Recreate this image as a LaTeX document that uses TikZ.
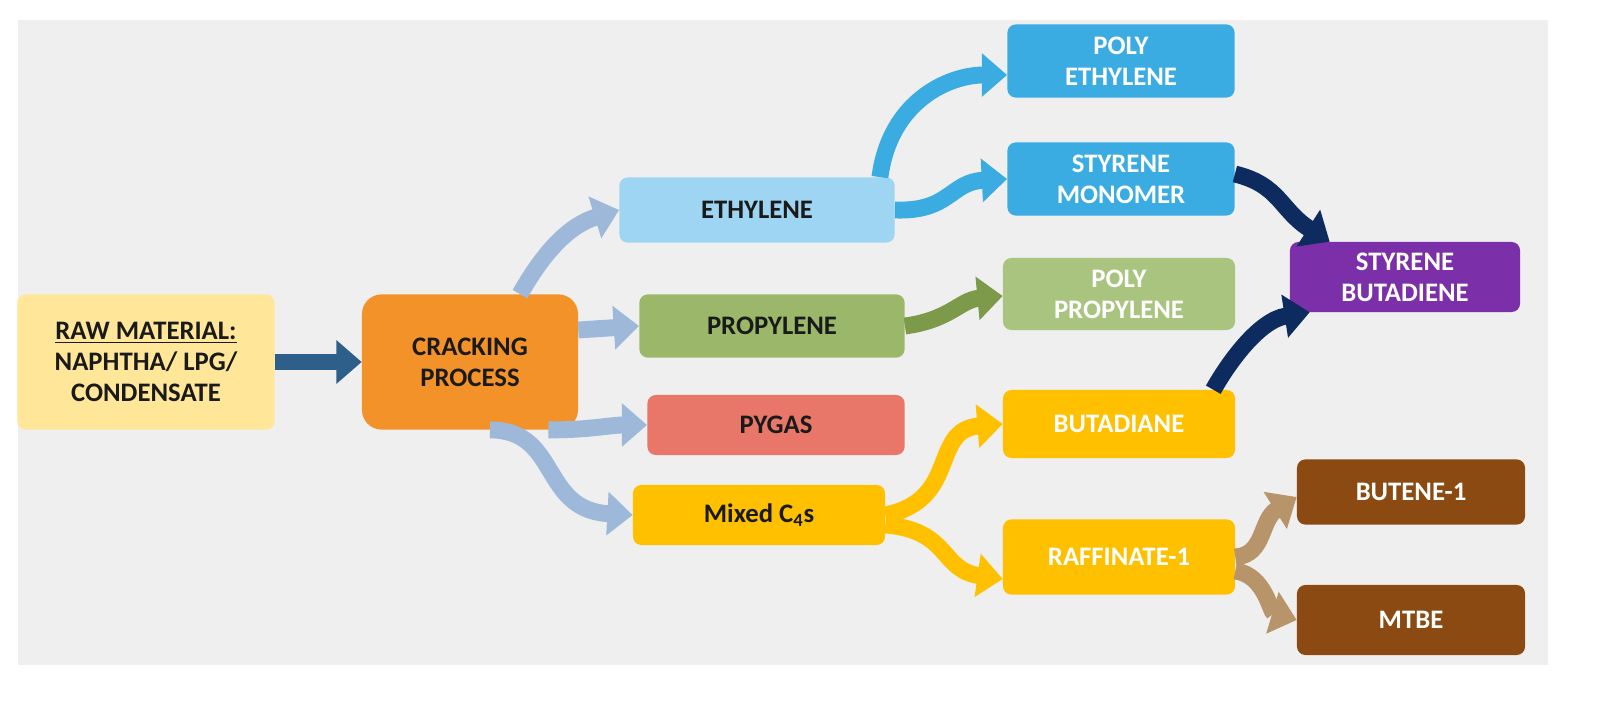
\documentclass[tikz,border=0pt]{standalone}
\usepackage{fontspec}
\setmainfont{Carlito}
\usetikzlibrary{arrows.meta,calc}
\definecolor{bg}{HTML}{EFEFEF}
\definecolor{rawc}{HTML}{FFE699}
\definecolor{orng}{HTML}{F4922A}
\definecolor{lblue}{HTML}{9DD5F2}
\definecolor{lgreen}{HTML}{9BB86A}
\definecolor{salmon}{HTML}{E8776A}
\definecolor{gold}{HTML}{FFC000}
\definecolor{sky}{HTML}{3AACE2}
\definecolor{pgreen}{HTML}{A9C47F}
\definecolor{purp}{HTML}{7B2FA8}
\definecolor{brown}{HTML}{8B4A12}
\definecolor{dblue}{HTML}{2E5F8A}
\definecolor{grayblue}{HTML}{9DB8D9}
\definecolor{agreen}{HTML}{7C9A4A}
\definecolor{navy}{HTML}{0D2B5E}
\definecolor{tan}{HTML}{B8946A}
\definecolor{txt}{HTML}{1A1A1A}
\begin{document}
\begin{tikzpicture}[x=0.025cm,y=-0.025cm,
  box/.style={rounded corners=6pt,draw=none,align=center,inner sep=2pt,
    font=\fontsize{19}{22}\selectfont\bfseries,text=txt},
  wbox/.style={box,text=white},
  arr/.style={line width=12pt,-{Triangle[width=30pt,length=18pt]}}]
\fill[white] (0,0) rectangle (1606,702);
\fill[bg] (18,20) rectangle (1548,665);
\node[box,fill=rawc,minimum width=6.43cm,minimum height=3.38cm] (raw) at (146,362) {\underline{RAW MATERIAL:}\\NAPHTHA/ LPG/\\CONDENSATE};
\node[box,fill=orng,minimum width=5.4cm,minimum height=3.38cm,rounded corners=14pt] (crack) at (470,362) {CRACKING\\PROCESS};
\node[box,fill=lblue,minimum width=6.88cm,minimum height=1.63cm] (eth) at (757,210) {ETHYLENE};
\node[box,fill=lgreen,minimum width=6.63cm,minimum height=1.58cm] (prop) at (772,326) {PROPYLENE};
\node[box,fill=salmon,minimum width=6.43cm,minimum height=1.5cm] (pyg) at (776,425) {PYGAS};
\node[box,fill=gold,minimum width=6.3cm,minimum height=1.5cm] (mix) at (759,515) {Mixed C\textsubscript{4}s};
\node[wbox,fill=sky,minimum width=5.68cm,minimum height=1.83cm] (pe) at (1121,61) {POLY\\ETHYLENE};
\node[wbox,fill=sky,minimum width=5.68cm,minimum height=1.83cm] (sm) at (1121,179) {STYRENE\\MONOMER};
\node[wbox,fill=pgreen,minimum width=5.8cm,minimum height=1.8cm] (pp) at (1119,294) {POLY\\PROPYLENE};
\node[wbox,fill=gold,minimum width=5.8cm,minimum height=1.7cm] (bu) at (1119,424) {BUTADIANE};
\node[wbox,fill=gold,minimum width=5.8cm,minimum height=1.88cm] (raf) at (1119,557) {RAFFINATE-1};
\node[wbox,fill=purp,minimum width=5.75cm,minimum height=1.75cm] (sb) at (1405,277) {STYRENE\\BUTADIENE};
\node[wbox,fill=brown,minimum width=5.7cm,minimum height=1.63cm] (b1) at (1411,492) {BUTENE-1};
\node[wbox,fill=brown,minimum width=5.7cm,minimum height=1.75cm] (mtbe) at (1411,620) {MTBE};
% arrows
\draw[arr,dblue] (raw.east) -- (crack.west);
\draw[arr,grayblue] ($(crack.north)+(50,0)$) .. controls (545,250) and (570,225) .. (eth.west);
\draw[arr,grayblue] ($(crack.east)+(0,-32)$) -- (prop.west);
\draw[arr,grayblue] ($(crack.south east)+(-30,0)$) .. controls (590,430) and (610,425) .. (pyg.west);
\draw[arr,grayblue] ($(crack.south)+(20,0)$) .. controls (560,430) and (540,510) .. (mix.west);
\draw[arr,sky] ($(eth.north east)+(-15,0)$) .. controls (890,100) and (950,75) .. ($(pe.west)+(0,14)$);
\draw[arr,sky] ($(eth.east)+(0,0)$) .. controls (950,212) and (950,182) .. (sm.west);
\draw[arr,agreen] (prop.east) .. controls (950,320) and (960,300) .. ($(pp.west)+(0,2)$);
\draw[arr,gold] ($(mix.east)+(0,0)$) .. controls (960,500) and (930,430) .. (bu.west);
\draw[arr,gold] ($(mix.east)+(0,10)$) .. controls (950,530) and (940,570) .. ($(raf.west)+(0,22)$);
\draw[arr,navy] ($(sm.east)+(0,-5)$) .. controls (1280,185) and (1280,210) .. ($(sb.north west)+(40,0)$);
\draw[arr,navy] ($(bu.north east)+(-22,0)$) .. controls (1230,360) and (1260,320) .. ($(sb.south west)+(20,0)$);
\draw[arr,tan] ($(raf.east)+(0,0)$) .. controls (1265,555) and (1260,520) .. ($(b1.west)+(0,5)$);
\draw[arr,tan] ($(raf.east)+(0,14)$) .. controls (1265,575) and (1270,612) .. (mtbe.west);
\pgfresetboundingbox
\path[use as bounding box] (0,0) rectangle (1606,702);
\end{tikzpicture}
\end{document}
